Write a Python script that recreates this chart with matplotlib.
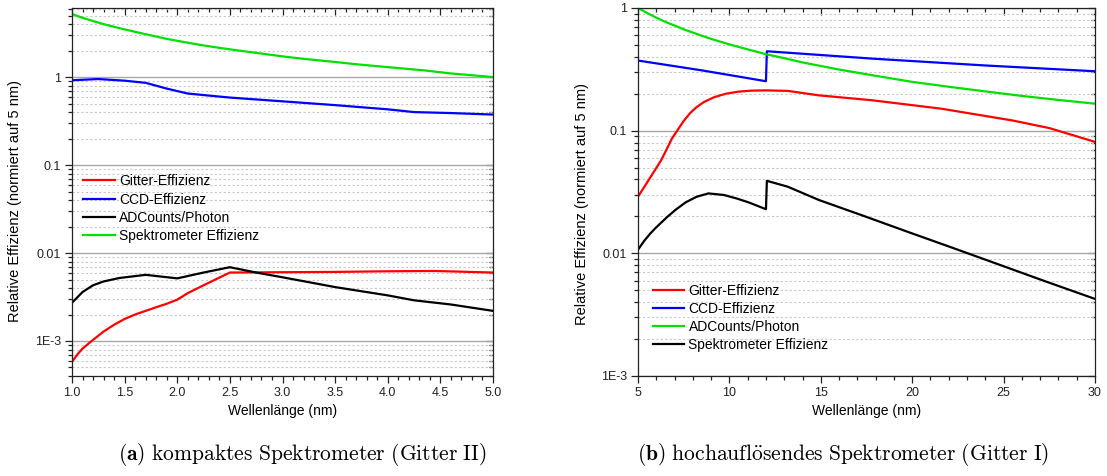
import matplotlib
matplotlib.use("Agg")
import matplotlib.pyplot as plt
from matplotlib.ticker import (LogLocator, MultipleLocator,
                               FuncFormatter, NullFormatter)

plt.rcParams['font.family'] = ['Liberation Sans', 'DejaVu Sans']
plt.rcParams['mathtext.fontset'] = 'cm'

# ---------------- (a) kompaktes Spektrometer (Gitter II) ----------------
wl_a_gitter = [1.0, 1.05, 1.1, 1.2, 1.3, 1.4, 1.5, 1.6, 1.7, 1.8, 1.9, 2.0,
               2.1, 2.25, 2.5, 3.0, 3.5, 4.0, 4.45, 5.0]
eff_a_gitter = [5.8e-4, 7.0e-4, 8.2e-4, 1.03e-3, 1.28e-3, 1.53e-3, 1.78e-3,
                2.0e-3, 2.2e-3, 2.42e-3, 2.65e-3, 2.95e-3, 3.5e-3, 4.3e-3,
                6.0e-3, 6.05e-3, 6.1e-3, 6.2e-3, 6.25e-3, 6.0e-3]

wl_a_ccd = [1.0, 1.25, 1.5, 1.7, 1.9, 2.1, 2.5, 3.0, 3.5, 4.0, 4.25, 4.6, 5.0]
eff_a_ccd = [0.92, 0.95, 0.91, 0.86, 0.74, 0.65, 0.585, 0.53, 0.48, 0.43,
             0.40, 0.39, 0.375]

wl_a_adc = [1.0, 1.1, 1.2, 1.3, 1.45, 1.7, 2.0, 2.25, 2.5, 2.75, 3.0, 3.5,
            4.0, 4.25, 4.6, 5.0]
eff_a_adc = [2.72e-3, 3.6e-3, 4.3e-3, 4.75e-3, 5.2e-3, 5.65e-3, 5.15e-3,
             6.0e-3, 6.9e-3, 6.0e-3, 5.3e-3, 4.1e-3, 3.3e-3, 2.9e-3, 2.6e-3,
             2.2e-3]

wl_a_spek = [1.0, 1.1, 1.2, 1.3, 1.45, 1.6, 1.75, 1.9, 2.05, 2.23, 2.4, 2.55,
             2.7, 2.86, 3.05, 3.25, 3.49, 3.7, 3.9, 4.12, 4.35, 4.6, 4.8,
             5.0]
eff_a_spek = [5.2, 4.72, 4.34, 4.0, 3.6, 3.27, 2.98, 2.72, 2.52, 2.31, 2.15,
              2.03, 1.92, 1.81, 1.69, 1.59, 1.49, 1.40, 1.33, 1.26, 1.19,
              1.1, 1.05, 1.0]

# ---------------- (b) hochauflösendes Spektrometer (Gitter I) ----------------
wl_b_gitter = [5.0, 5.3, 5.6, 5.9, 6.27, 6.6, 6.85, 7.2, 7.5, 7.85, 8.19,
               8.6, 9.15, 9.8, 10.5, 11.2, 12.0, 13.2, 14.9, 17.8, 21.6,
               25.5, 27.5, 30.0]
eff_b_gitter = [0.029, 0.034, 0.040, 0.047, 0.0575, 0.072, 0.086, 0.103,
                0.12, 0.139, 0.155, 0.171, 0.187, 0.200, 0.208, 0.212, 0.213,
                0.211, 0.194, 0.177, 0.151, 0.121, 0.105, 0.081]

wl_b_ccd = [5.0, 8.5, 12.0, 12.05, 18.0, 24.0, 30.0]
eff_b_ccd = [0.373, 0.31, 0.253, 0.444, 0.385, 0.34, 0.305]

wl_b_adc = [5.0, 5.5, 6.0, 6.5, 7.0, 7.5, 8.0, 9.0, 10.0, 11.0, 12.0, 13.0,
            14.0, 16.0, 18.0, 20.0, 22.0, 24.0, 26.0, 28.0, 30.0]
eff_b_adc = [1.0, 0.91, 0.835, 0.77, 0.72, 0.67, 0.63, 0.56, 0.505, 0.46,
             0.42, 0.39, 0.36, 0.315, 0.28, 0.25, 0.228, 0.209, 0.192,
             0.178, 0.166]

wl_b_spek = [5.0, 5.35, 5.69, 6.0, 6.27, 6.6, 7.05, 7.6, 8.2, 8.85, 9.7,
             10.4, 11.06, 12.0, 12.05, 13.2, 14.9, 17.3, 19.74, 22.2, 24.55,
             27.3, 30.0]
eff_b_spek = [0.0107, 0.0127, 0.0146, 0.0163, 0.0178, 0.0198, 0.0226,
              0.026, 0.0289, 0.0308, 0.0299, 0.028, 0.026, 0.0229, 0.039,
              0.0349, 0.0272, 0.0203, 0.015, 0.0111, 0.0083, 0.0059,
              0.00425]

labels_a = ['Gitter-Effizienz', 'CCD-Effizienz', 'ADCounts/Photon',
            'Spektrometer Effizienz']
labels_b = ['Gitter-Effizienz', 'CCD-Effizienz', 'ADCounts/Photon',
            'Spektrometer Effizienz']

RED, BLUE, BLACK, GREEN = '#ff0000', '#0000ff', '#000000', '#00e000'
LW = 1.6

y_tick_text = {1.0: '1', 0.1: '0.1', 0.01: '0.01', 0.001: '1E-3'}


def fmt_log(v, pos):
    for k, s in y_tick_text.items():
        if abs(v - k) / k < 1e-6:
            return s
    return ''


def style_axes(ax, xmajor, xminor, ylim):
    ax.set_yscale('log')
    ax.set_ylim(*ylim)
    ax.xaxis.set_major_locator(MultipleLocator(xmajor))
    ax.xaxis.set_minor_locator(MultipleLocator(xminor))
    ax.yaxis.set_major_locator(LogLocator(base=10, numticks=10))
    ax.yaxis.set_minor_locator(LogLocator(base=10, subs=range(2, 10),
                                          numticks=20))
    ax.yaxis.set_major_formatter(FuncFormatter(fmt_log))
    ax.yaxis.set_minor_formatter(NullFormatter())
    ax.grid(which='major', axis='y', color='#a8a8a8', lw=1.0, ls='-')
    ax.grid(which='minor', axis='y', color='#c8c8c8', lw=0.8,
            ls=(0, (2.0, 2.0)))
    ax.set_axisbelow(True)
    for sp in ax.spines.values():
        sp.set_color('#222222')
        sp.set_linewidth(0.9)
    ax.tick_params(which='both', direction='out', top=False, right=False,
                   colors='#222222', labelsize=9, width=0.9)
    ax.tick_params(which='major', length=5, pad=3)
    ax.tick_params(which='minor', length=3)

    top = ax.secondary_xaxis('top')
    top.xaxis.set_major_locator(MultipleLocator(xmajor))
    top.xaxis.set_minor_locator(MultipleLocator(xminor))
    top.tick_params(which='both', direction='in', labeltop=False,
                    colors='#222222', width=0.9)
    top.tick_params(which='major', length=5)
    top.tick_params(which='minor', length=3)
    top.spines['top'].set_visible(False)

    right = ax.secondary_yaxis('right')
    right.yaxis.set_major_locator(LogLocator(base=10, numticks=10))
    right.yaxis.set_minor_locator(LogLocator(base=10, subs=range(2, 10),
                                             numticks=20))
    right.yaxis.set_major_formatter(NullFormatter())
    right.yaxis.set_minor_formatter(NullFormatter())
    right.tick_params(which='both', direction='in', labelright=False,
                      colors='#222222', width=0.9)
    right.tick_params(which='major', length=5)
    right.tick_params(which='minor', length=3)
    right.spines['right'].set_visible(False)

    ax.set_xlabel('Wellenlänge (nm)', fontsize=10)
    ax.set_ylabel('Relative Effizienz (normiert auf 5 nm)', fontsize=10.5)


W, H = 1107, 476
fig = plt.figure(figsize=(W / 100, H / 100), dpi=100)

axA = fig.add_axes([72 / W, 100 / H, 421 / W, 368 / H])
axB = fig.add_axes([638 / W, 100 / H, 457 / W, 368 / H])

legend_kw = dict(loc='upper left', frameon=False, fontsize=10,
                 handlelength=2.25, handletextpad=0.3, labelspacing=0.3,
                 borderpad=0, borderaxespad=0)

# panel (a)
axA.plot(wl_a_gitter, eff_a_gitter, color=RED, lw=LW, label=labels_a[0])
axA.plot(wl_a_ccd, eff_a_ccd, color=BLUE, lw=LW, label=labels_a[1])
axA.plot(wl_a_adc, eff_a_adc, color=BLACK, lw=LW, label=labels_a[2])
axA.plot(wl_a_spek, eff_a_spek, color=GREEN, lw=LW, label=labels_a[3])
axA.set_xlim(1.0, 5.0)
style_axes(axA, 0.5, 0.1, (4e-4, 6.1))
axA.xaxis.set_major_formatter(FuncFormatter(lambda v, p: f'{v:.1f}'))
axA.legend(bbox_to_anchor=(0.027, 0.548), **legend_kw)
axA.yaxis.set_label_coords(-0.118, 0.476)
axA.xaxis.set_label_coords(0.5, -0.075)

# panel (b)
axB.plot(wl_b_gitter, eff_b_gitter, color=RED, lw=LW, label=labels_b[0])
axB.plot(wl_b_ccd, eff_b_ccd, color=BLUE, lw=LW, label=labels_b[1])
axB.plot(wl_b_adc, eff_b_adc, color=GREEN, lw=LW, label=labels_b[2])
axB.plot(wl_b_spek, eff_b_spek, color=BLACK, lw=LW, label=labels_b[3])
axB.set_xlim(5, 30)
style_axes(axB, 5, 1, (1e-3, 1.0))
axB.legend(bbox_to_anchor=(0.033, 0.251), **legend_kw)
axB.yaxis.set_label_coords(-0.108, 0.467)
axB.xaxis.set_label_coords(0.5, -0.075)

# sub-figure captions
fig.text(302 / W, 21 / H,
         r'$\mathbf{(a)}\ \mathrm{kompaktes\ Spektrometer\ (Gitter\ II)}$',
         ha='center', va='center', fontsize=15.5)
fig.text(843 / W, 21 / H,
         r'$\mathbf{(b)}\ \mathrm{hochaufl\ddot{o}sendes\ Spektrometer\ (Gitter\ I)}$',
         ha='center', va='center', fontsize=15.5)

fig.savefig('out.png', dpi=100)
